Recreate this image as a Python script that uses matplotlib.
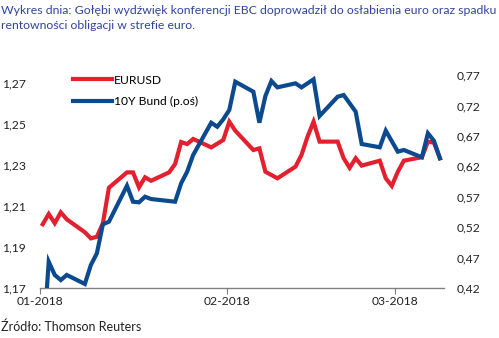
import numpy as np
import pandas as pd
import matplotlib
matplotlib.use("Agg")
import matplotlib.pyplot as plt
import matplotlib.dates as mdates
from matplotlib.ticker import FuncFormatter

plt.rcParams['font.family'] = ['Lato', 'DejaVu Sans']

# dni od 1 stycznia 2018
eur_days = [0, 1, 2, 3, 4, 7, 8, 9, 10, 11, 14, 15, 16, 17, 18, 21, 22, 23, 24, 25,
            28, 30, 31, 32, 35, 36, 37, 39, 42, 43, 44, 45, 46, 49, 50, 51, 52, 53,
            56, 57, 58, 59, 60, 63, 64, 65, 66]
eurusd = [1.2011, 1.2061, 1.2016, 1.2069, 1.2035, 1.1972, 1.1942, 1.1950, 1.2016, 1.2189,
          1.2264, 1.2264, 1.2191, 1.2240, 1.2223, 1.2264, 1.2305, 1.2412, 1.2402, 1.2427,
          1.2386, 1.2422, 1.2511, 1.2467, 1.2373, 1.2381, 1.2267, 1.2235, 1.2292, 1.2349,
          1.2438, 1.2511, 1.2414, 1.2414, 1.2333, 1.2286, 1.2333, 1.2297, 1.2321, 1.2235,
          1.2198, 1.2267, 1.2321, 1.2338, 1.2414, 1.2409, 1.2333]

bund_days = [0, 1, 2, 3, 4, 7, 8, 9, 10, 11, 14, 15, 16, 17, 18, 22, 23, 24, 25, 28,
             29, 30, 31, 32, 35, 36, 37, 38, 39, 42, 43, 45, 46, 49, 50, 51, 52, 53,
             56, 57, 59, 60, 63, 64, 65, 66]
bund = [0.320, 0.4632, 0.4414, 0.4331, 0.4414, 0.4266, 0.4578, 0.4770, 0.5247, 0.5289,
        0.5881, 0.5618, 0.5608, 0.5700, 0.5662, 0.5618, 0.5920, 0.6111, 0.6386, 0.6916,
        0.6850, 0.6972, 0.7125, 0.7590, 0.7425, 0.6916, 0.7355, 0.7601, 0.7497, 0.7563,
        0.7497, 0.7629, 0.7026, 0.7343, 0.7371, 0.7235, 0.7097, 0.6566, 0.6512, 0.6785,
        0.6440, 0.6468, 0.6348, 0.6742, 0.6620, 0.6331]

start = pd.Timestamp("2018-01-01")
# punkty w połowie dnia (jak na osi dat w Excelu)
eur_x = start + pd.to_timedelta(np.array(eur_days) + 0.45, unit="D")
bund_x = start + pd.to_timedelta(np.array(bund_days) + 0.45, unit="D")

red = "#e3202e"
blue = "#0b4a8f"

fig = plt.figure(figsize=(4.99, 3.38), dpi=100)
ax = fig.add_axes([40 / 499, 1 - 288 / 338, 404 / 499, 213 / 338])
ax2 = ax.twinx()

l1, = ax.plot(eur_x, eurusd, color=red, lw=3.0, solid_joinstyle="miter", label="EURUSD")
l2, = ax2.plot(bund_x, bund, color=blue, lw=3.0, solid_joinstyle="miter", label="10Y Bund (p.oś)")

ax.set_ylim(1.17, 1.2739)
ax.set_yticks([1.17, 1.19, 1.21, 1.23, 1.25, 1.27])
ax2.set_ylim(0.42, 0.77)
ax2.set_yticks([0.42, 0.47, 0.52, 0.57, 0.62, 0.67, 0.72, 0.77])
fmt = FuncFormatter(lambda v, p: f"{v:.2f}".replace(".", ","))
ax.yaxis.set_major_formatter(fmt)
ax2.yaxis.set_major_formatter(fmt)

ax.set_xlim(start, pd.Timestamp("2018-03-09 03:00"))
ax.set_xticks([pd.Timestamp("2018-01-01"), pd.Timestamp("2018-02-01"), pd.Timestamp("2018-03-01")])
ax.xaxis.set_major_formatter(mdates.DateFormatter("%m-%Y"))

for a in (ax, ax2):
    for s in ("top", "left", "right"):
        a.spines[s].set_visible(False)
    a.spines["bottom"].set_color("#808080")
    a.spines["bottom"].set_linewidth(1.0)
ax2.spines["bottom"].set_visible(False)

ax.tick_params(axis="x", length=4, width=0.8, color="#808080", labelsize=8.7, pad=2, labelcolor="#222222")
ax.tick_params(axis="y", length=0, labelsize=8.7, pad=10, labelcolor="#222222")
ax2.tick_params(axis="y", length=0, labelsize=8.7, pad=9, labelcolor="#222222")

leg = ax.legend(handles=[l1, l2], loc="upper left", bbox_to_anchor=(0.07, 1.025),
                frameon=False, fontsize=8.7, handlelength=3.2, handletextpad=0.2,
                labelspacing=0.85, borderaxespad=0)

fig.text(0.003, 0.985, "Wykres dnia: Gołębi wydźwięk konferencji EBC doprowadził do osłabienia euro oraz spadku\nrentowności obligacji w strefie euro.",
         ha="left", va="top", fontsize=8.85, color="#33449a", linespacing=1.45)
fig.text(0.003, 1 - 327 / 338, "Źródło: Thomson Reuters", ha="left", va="center", fontsize=9, color="#222222")

fig.savefig("out.png", dpi=100)
